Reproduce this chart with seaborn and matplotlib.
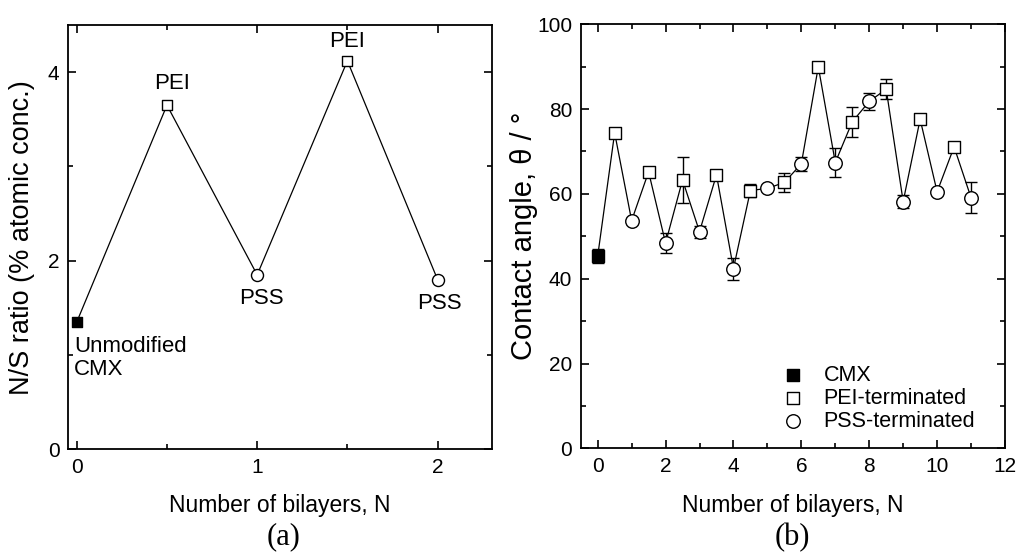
import numpy as np
import matplotlib
matplotlib.use('Agg')
import matplotlib.pyplot as plt
from matplotlib.ticker import MultipleLocator
import pandas as pd
import seaborn as sns

# (a) N/S ratio from XPS
a_bilayers = [0, 0.5, 1, 1.5, 2]
a_ratio = [1.35, 3.65, 1.85, 4.12, 1.80]
a_kind = ['CMX', 'PEI', 'PSS', 'PEI', 'PSS']
a_labels = ['Unmodified\nCMX', 'PEI', 'PSS', 'PEI', 'PSS']

# (b) contact angle
b_bilayers = [0, 0.5, 1, 1.5, 2, 2.5, 3, 3.5, 4, 4.5, 5, 5.5,
              6, 6.5, 7, 7.5, 8, 8.5, 9, 9.5, 10, 10.5, 11]
b_angle = [45.3, 74.4, 53.7, 65.2, 48.4, 63.3, 51.1, 64.5, 42.4, 60.8, 61.3, 62.7,
           67.1, 90.0, 67.4, 77.0, 81.8, 84.7, 58.2, 77.6, 60.5, 71.1, 59.1]
b_err = [1.7, 0, 0, 0, 2.3, 5.5, 1.4, 0, 2.6, 1.6, 0, 2.2,
         1.6, 0.5, 3.5, 3.5, 2.0, 2.4, 1.6, 0, 0, 0, 3.6]
b_kind = ['CMX'] + ['PEI-terminated', 'PSS-terminated'] * 11

sns.set_theme(style='ticks')
plt.rcParams['font.family'] = ['Liberation Sans', 'DejaVu Sans']
plt.rcParams['axes.linewidth'] = 1.2
plt.rcParams['text.color'] = 'black'
plt.rcParams['axes.labelcolor'] = 'black'

df_a = pd.DataFrame({'N': a_bilayers, 'ratio': a_ratio, 'kind': a_kind})
df_b = pd.DataFrame({'N': b_bilayers, 'angle': b_angle, 'err': b_err, 'kind': b_kind})

fig = plt.figure(figsize=(10.17, 5.56), dpi=100)
ax1 = fig.add_axes([0.0666, 0.1919, 0.4169, 0.7631])
ax2 = fig.add_axes([0.5710, 0.1937, 0.4172, 0.7626])

def style_axes(ax):
    ax.tick_params(which='both', direction='in', top=True, right=True,
                   labelsize=15, pad=6, color='black', labelcolor='black')
    ax.tick_params(which='major', length=6, width=1.2)
    ax.tick_params(which='minor', length=3.5, width=1.2)
    for s in ax.spines.values():
        s.set_color('black')
        s.set_linewidth(1.3)

# ---- panel (a)
sns.lineplot(data=df_a, x='N', y='ratio', ax=ax1, color='black', lw=0.9,
             sort=False, legend=False, zorder=1)
face_a = {'CMX': 'black', 'PEI': 'white', 'PSS': 'white'}
mark_a = {'CMX': 's', 'PEI': 's', 'PSS': 'o'}
for k in ['CMX', 'PEI', 'PSS']:
    sub = df_a[df_a['kind'] == k]
    sns.scatterplot(data=sub, x='N', y='ratio', ax=ax1, marker=mark_a[k],
                    color=face_a[k], edgecolor='black', linewidth=1.0,
                    s=55 if mark_a[k] == 's' else 75, zorder=3, legend=False)

offs = [(-3, -14), (5, 11), (4, -13), (0, 9), (2, -13)]
vas = ['top', 'bottom', 'top', 'bottom', 'top']
has = ['left', 'center', 'center', 'center', 'center']
for x, y, t, o, va, ha in zip(a_bilayers, a_ratio, a_labels, offs, vas, has):
    ax1.annotate(t, (x, y), xytext=o, textcoords='offset pixels',
                 ha=ha, va=va, fontsize=16, linespacing=1.15)

ax1.set_xlim(-0.05, 2.3)
ax1.set_ylim(0, 4.5)
ax1.xaxis.set_major_locator(MultipleLocator(1))
ax1.xaxis.set_minor_locator(MultipleLocator(0.5))
ax1.yaxis.set_major_locator(MultipleLocator(2))
ax1.yaxis.set_minor_locator(MultipleLocator(1))
style_axes(ax1)
ax1.set_xlabel('Number of bilayers, N', fontsize=16.5, va='center')
ax1.set_ylabel('N/S ratio (% atomic conc.)', fontsize=19.5, va='center')
ax1.xaxis.set_label_coords(0.5, -0.132)
ax1.yaxis.set_label_coords(-0.108, 0.5)
ax1.text(0.51, -0.207, '(a)', transform=ax1.transAxes, ha='center', va='center',
         fontsize=22, family=['Liberation Serif', 'DejaVu Serif'])

# ---- panel (b)
sns.lineplot(data=df_b, x='N', y='angle', ax=ax2, color='black', lw=0.9,
             sort=False, legend=False, zorder=1)
eb = df_b[df_b['err'] > 0]
ax2.errorbar(eb['N'], eb['angle'], yerr=eb['err'], fmt='none', ecolor='black',
             elinewidth=1.0, capsize=4.5, capthick=1.0, zorder=2)
face_b = {'CMX': 'black', 'PEI-terminated': 'white', 'PSS-terminated': 'white'}
mark_b = {'CMX': 's', 'PEI-terminated': 's', 'PSS-terminated': 'o'}
for k in ['CMX', 'PEI-terminated', 'PSS-terminated']:
    sub = df_b[df_b['kind'] == k]
    sns.scatterplot(data=sub, x='N', y='angle', ax=ax2, marker=mark_b[k],
                    color=face_b[k], edgecolor='black', linewidth=1.0,
                    s=65 if mark_b[k] == 's' else 95, zorder=3, label=k)

ax2.set_xlim(-0.5, 12)
ax2.set_ylim(0, 100)
ax2.xaxis.set_major_locator(MultipleLocator(2))
ax2.xaxis.set_minor_locator(MultipleLocator(1))
ax2.yaxis.set_major_locator(MultipleLocator(20))
ax2.yaxis.set_minor_locator(MultipleLocator(10))
style_axes(ax2)
ax2.set_xlabel('Number of bilayers, N', fontsize=16.5, va='center')
ax2.set_ylabel('Contact angle, θ / °', fontsize=21, va='center')
ax2.xaxis.set_label_coords(0.5, -0.134)
ax2.yaxis.set_label_coords(-0.133, 0.5)
ax2.text(0.5, -0.21, '(b)', transform=ax2.transAxes, ha='center', va='center',
         fontsize=22, family=['Liberation Serif', 'DejaVu Serif'])
leg = ax2.legend(loc='lower right', bbox_to_anchor=(0.95, 0.018), frameon=False,
                 fontsize=15.5, handletextpad=0.9, labelspacing=0.1,
                 handlelength=1.0, borderaxespad=0.0)

fig.savefig('out.png', dpi=100)
